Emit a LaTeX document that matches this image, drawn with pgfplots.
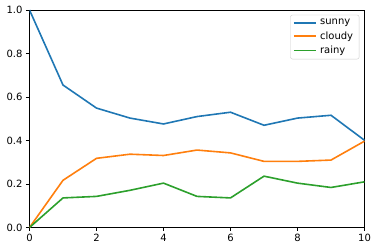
\documentclass[border=0pt]{standalone}
\usepackage{pgfplots}
\pgfplotsset{compat=1.18}
\usepackage{fontspec}
\setmainfont{DejaVu Sans}
\definecolor{c0}{HTML}{1F77B4}
\definecolor{c1}{HTML}{FF7F0E}
\definecolor{c2}{HTML}{2CA02C}
\begin{document}
\begin{tikzpicture}
\begin{axis}[
  scale only axis, width=335pt, height=217.5pt,
  xmin=0, xmax=10, ymin=0, ymax=1,
  xtick={0,2,4,6,8,10}, ytick={0,0.2,0.4,0.6,0.8,1.0},
  /pgf/number format/assume math mode=true,
  xticklabel style={/pgf/number format/fixed},
  yticklabel style={/pgf/number format/fixed, /pgf/number format/fixed zerofill, /pgf/number format/precision=1},
  tick label style={font=\fontsize{10}{12}\selectfont, text=black},
  tick align=outside, major tick length=3.5pt,
  tick pos=left,
  axis line style={black, line width=0.8pt},
  every tick/.style={black, line width=0.8pt},
  legend style={at={(0.9845,0.978)}, anchor=north east, draw=black!20, rounded corners=2pt, font=\fontsize{10}{12}\selectfont, row sep=2.8pt, inner xsep=2.5pt, inner ysep=3pt, fill=white,
    nodes={inner xsep=3.5pt, inner ysep=1.2pt}},
  legend cell align=left,
  legend image code/.code={\draw[#1, line width=1.6pt] (0pt,0pt) -- (22pt,0pt);},
]
\addplot[c0, line width=1.6pt] coordinates {(0,1.0) (1,0.655) (2,0.549) (3,0.503) (4,0.476) (5,0.510) (6,0.530) (7,0.470) (8,0.503) (9,0.516) (10,0.401)};
\addlegendentry{sunny}
\addplot[c1, line width=1.6pt] coordinates {(0,0.0) (1,0.217) (2,0.318) (3,0.337) (4,0.331) (5,0.356) (6,0.343) (7,0.304) (8,0.304) (9,0.310) (10,0.397)};
\addlegendentry{cloudy}
\addplot[c2, line width=1.6pt] coordinates {(0,0.0) (1,0.136) (2,0.143) (3,0.171) (4,0.204) (5,0.143) (6,0.136) (7,0.236) (8,0.204) (9,0.184) (10,0.210)};
\addlegendentry{rainy}
\end{axis}
\pgfresetboundingbox
\path ([shift={(-29.5pt,-22.5pt)}]current axis.south west) rectangle ([shift={(11.5pt,10pt)}]current axis.north east);
\end{tikzpicture}
\end{document}
